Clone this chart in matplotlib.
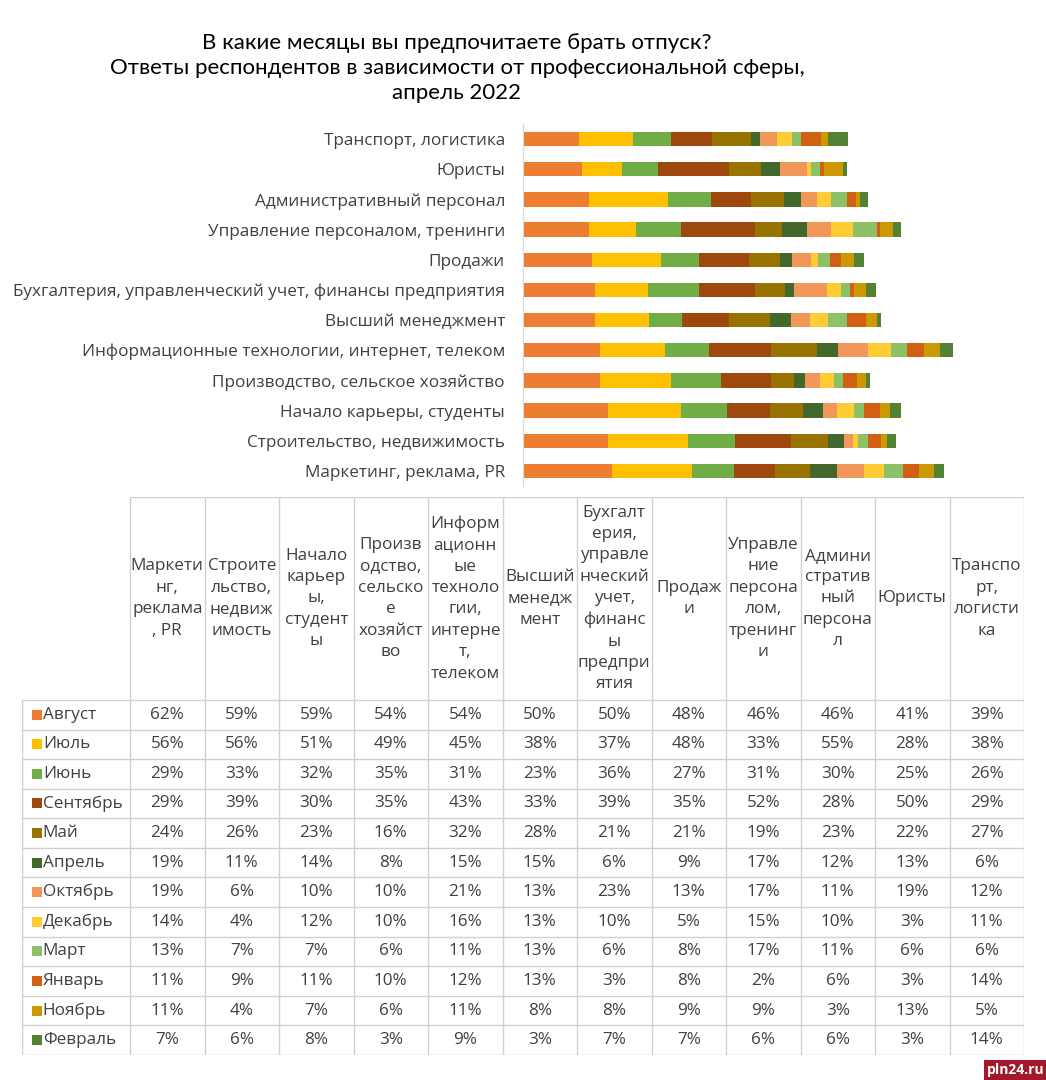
import matplotlib
matplotlib.use("Agg")
import matplotlib.pyplot as plt

plt.rcParams['font.family'] = ['Open Sans', 'DejaVu Sans']

categories = [
    "Маркетинг, реклама, PR",
    "Строительство, недвижимость",
    "Начало карьеры, студенты",
    "Производство, сельское хозяйство",
    "Информационные технологии, интернет, телеком",
    "Высший менеджмент",
    "Бухгалтерия, управленческий учет, финансы предприятия",
    "Продажи",
    "Управление персоналом, тренинги",
    "Административный персонал",
    "Юристы",
    "Транспорт, логистика",
]

# column headers as they wrap in the table cells
headers = [
    "Маркети\nнг,\nреклама\n, PR",
    "Строите\nльство,\nнедвиж\nимость",
    "Начало\nкарьер\nы,\nстудент\nы",
    "Произв\nодство,\nсельско\nе\nхозяйст\nво",
    "Информ\nационн\nые\nтехноло\nгии,\nинтерне\nт,\nтелеком",
    "Высший\nменедж\nмент",
    "Бухгалт\nерия,\nуправле\nнческий\nучет,\nфинанс\nы\nпредпри\nятия",
    "Продаж\nи",
    "Управле\nние\nперсона\nлом,\nтренинг\nи",
    "Админи\nстратив\nный\nперсона\nл",
    "Юристы",
    "Транспо\nрт,\nлогисти\nка",
]

months = ["Август", "Июль", "Июнь", "Сентябрь", "Май", "Апрель",
          "Октябрь", "Декабрь", "Март", "Январь", "Ноябрь", "Февраль"]

avg = [62, 59, 59, 54, 54, 50, 50, 48, 46, 46, 41, 39]
jul = [56, 56, 51, 49, 45, 38, 37, 48, 33, 55, 28, 38]
jun = [29, 33, 32, 35, 31, 23, 36, 27, 31, 30, 25, 26]
sep = [29, 39, 30, 35, 43, 33, 39, 35, 52, 28, 50, 29]
may = [24, 26, 23, 16, 32, 28, 21, 21, 19, 23, 22, 27]
apr = [19, 11, 14, 8, 15, 15, 6, 9, 17, 12, 13, 6]
oct_ = [19, 6, 10, 10, 21, 13, 23, 13, 17, 11, 19, 12]
dec = [14, 4, 12, 10, 16, 13, 10, 5, 15, 10, 3, 11]
mar = [13, 7, 7, 6, 11, 13, 6, 8, 17, 11, 6, 6]
jan = [11, 9, 11, 10, 12, 13, 3, 8, 2, 6, 3, 14]
nov = [11, 4, 7, 6, 11, 8, 8, 9, 9, 3, 13, 5]
feb = [7, 6, 8, 3, 9, 3, 7, 7, 6, 6, 3, 14]
values = [avg, jul, jun, sep, may, apr, oct_, dec, mar, jan, nov, feb]

colors = ["#ED7D31", "#FFC000", "#70AD47", "#9E480E", "#997300", "#43682B",
          "#F1975A", "#FFCD33", "#8CC168", "#D26012", "#CC9A00", "#548235"]

text_col = "#404040"
grid_col = "#d0d0d0"
fs = 12.3

fig = plt.figure(figsize=(10.46, 10.8), dpi=100)
W, H = 1046, 1080

fig.text(457 / W, 1 - 68 / H,
         "В какие месяцы вы предпочитаете брать отпуск?\n"
         "Ответы респондентов в зависимости от профессиональной сферы,\n"
         "апрель 2022",
         ha="center", va="center", fontsize=16, linespacing=1.3, color="black",
         family=["Lato", "DejaVu Sans"])

# stacked bars
ax = fig.add_axes([523 / W, 1 - 486 / H, (953 - 523) / W, 362 / H])
ypos = list(range(len(categories)))
left = [0] * len(categories)
for name, vals, c in zip(months, values, colors):
    ax.barh(ypos, vals, left=left, height=0.47, color=c, label=name)
    left = [a + b for a, b in zip(left, vals)]
ax.set_xlim(0, 300)
ax.set_ylim(-0.5, len(categories) - 0.5)
ax.set_yticks(ypos)
ax.set_yticklabels(categories, fontsize=fs, color=text_col)
ax.tick_params(axis="y", length=0, pad=13)
ax.set_xticks([])
for s in ["top", "right", "bottom"]:
    ax.spines[s].set_visible(False)
ax.spines["left"].set_color("#d9d9d9")

# data table
lab_w = 108 / 74.5
hdr = 203 / 29.6
n = len(categories)
tax = fig.add_axes([22 / W, 1 - 1055 / H, (1024 - 22) / W, (1055 - 497) / H])
tax.set_xlim(-lab_w, n)
tax.set_ylim(hdr + len(months), 0)
tax.axis("off")

tax.hlines(0, 0, n, color=grid_col, lw=1)
for i in range(len(months) + 1):
    tax.hlines(hdr + i, -lab_w, n, color=grid_col, lw=1)
tax.vlines(-lab_w, hdr, hdr + len(months), color=grid_col, lw=1)
for j in range(n + 1):
    tax.vlines(j, 0, hdr + len(months), color=grid_col, lw=1)

for j, h in enumerate(headers):
    tax.text(j + 0.5, hdr / 2, h, ha="center", va="center", fontsize=fs,
             color=text_col, linespacing=1.45)

for i, (name, vals, c) in enumerate(zip(months, values, colors)):
    y = hdr + i + 0.5
    tax.scatter([-lab_w + 0.195], [y], marker="s", s=42, color=c, linewidths=0)
    tax.text(-lab_w + 0.28, y, name, ha="left", va="center", fontsize=fs, color=text_col)
    for j, v in enumerate(vals):
        tax.text(j + 0.5, y, f"{v}%", ha="center", va="center", fontsize=fs, color=text_col)

fig.text(1044 / W, 1 - 1070 / H, "pln24.ru", ha="right", va="center",
         fontsize=10, fontweight="bold", color="white",
         bbox=dict(facecolor="#a3182a", edgecolor="none", pad=2))

fig.savefig("out.png", dpi=100)
